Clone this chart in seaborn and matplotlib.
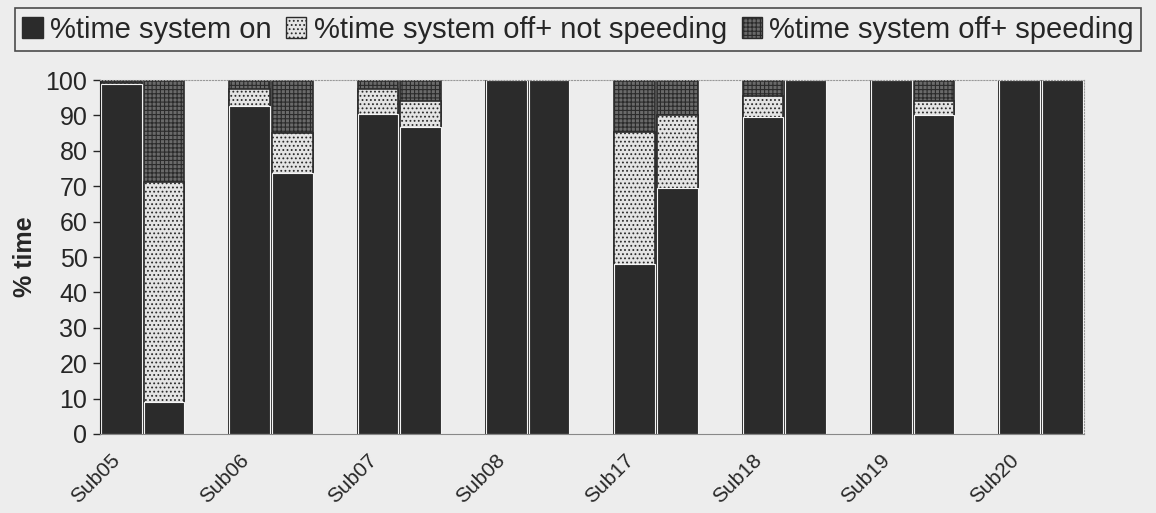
import numpy as np
import pandas as pd
import matplotlib
matplotlib.use('Agg')
import matplotlib.pyplot as plt
import seaborn as sns
from matplotlib.patches import Patch

sns.set_style('white')
plt.rcParams['font.family'] = ['Liberation Sans', 'DejaVu Sans']
plt.rcParams['hatch.linewidth'] = 0.8

# 데이터 (두 번의 주행, 피험자별)
subjects = ['Sub05', 'Sub06', 'Sub07', 'Sub08', 'Sub17', 'Sub18', 'Sub19', 'Sub20']
on_a = [99.0, 92.7, 90.3, 100, 47.9, 89.6, 100, 100]
notspeed_a = [0.3, 4.9, 7.3, 0, 37.5, 5.9, 0, 0]
speed_a = [0.7, 2.4, 2.4, 0, 14.6, 4.5, 0, 0]
on_b = [9.0, 73.8, 86.8, 100, 69.4, 100, 90.1, 100]
notspeed_b = [62.3, 11.1, 7.3, 0, 20.7, 0, 4.1, 0]
speed_b = [28.7, 15.1, 5.9, 0, 9.9, 0, 5.8, 0]

rows = []
for i, s in enumerate(subjects):
    rows.append([s, 'a', 3 * i, on_a[i], notspeed_a[i], speed_a[i]])
    rows.append([s, 'b', 3 * i + 1, on_b[i], notspeed_b[i], speed_b[i]])
df = pd.DataFrame(rows, columns=['subject', 'run', 'pos', 'on', 'notspeed', 'speed'])
df['lvl1'] = df['on']
df['lvl2'] = df['on'] + df['notspeed']
df['lvl3'] = df['lvl2'] + df['speed']

bg = '#ededed'
dark = '#2b2b2b'
fig = plt.figure(figsize=(11.56, 5.13), dpi=100, facecolor=bg)
ax = fig.add_axes([0.0865, 0.154, 0.851, 0.69])
ax.set_facecolor(bg)

# 누적 막대: 위에서부터 그리기
layers = [('lvl3', '#6a6a6a', '++++', '%time system off+ speeding'),
          ('lvl2', '#e4e4e4', '....', '%time system off+ not speeding'),
          ('lvl1', dark, None, '%time system on')]
for col, fc, hatch, lab in layers:
    sns.barplot(data=df, x='pos', y=col, native_scale=True, width=0.95,
                color=fc, edgecolor=dark, linewidth=1.2, hatch=hatch,
                saturation=1, errorbar=None, ax=ax)

# 막대 사이 흰 경계선
for p in ax.patches:
    if p.get_facecolor()[0] < 0.2:
        p.set_edgecolor('#f4f4f4')
        p.set_linewidth(0.8)

ax.set_xlim(-0.5, 22.5)
ax.set_ylim(0, 100)
ax.set_yticks(range(0, 101, 10))
ax.tick_params(axis='y', labelsize=18, length=5, width=1, direction='out', left=True, pad=4)
ax.set_xticks([3 * i - 0.25 for i in range(len(subjects))])
ax.set_xticklabels(subjects, rotation=45, ha='right', va='top',
                   rotation_mode='anchor', fontsize=15)
ax.tick_params(axis='x', length=0, pad=12)
ax.set_xlabel('')
ax.set_ylabel('% time', fontsize=18, fontweight='bold', labelpad=6)

for side in ['top', 'right']:
    ax.spines[side].set_visible(True)
    ax.spines[side].set_color('#999999')
    ax.spines[side].set_linestyle(':')
ax.spines['left'].set_color('#222222')
ax.spines['bottom'].set_color('#888888')

handles = [Patch(facecolor=dark, edgecolor=dark, label='%time system on'),
           Patch(facecolor='#e4e4e4', edgecolor=dark, hatch='....', label='%time system off+ not speeding'),
           Patch(facecolor='#6a6a6a', edgecolor=dark, hatch='++++', label='%time system off+ speeding')]
leg = fig.legend(handles=handles, loc='upper center', bbox_to_anchor=(0.5, 0.995), ncol=3,
                 fontsize=21, frameon=True, fancybox=False, edgecolor='#222222',
                 handlelength=0.7, handleheight=0.7, handletextpad=0.25, columnspacing=0.5,
                 borderpad=0.25, borderaxespad=0.2, facecolor=bg)
leg.get_frame().set_linewidth(1.2)

fig.savefig('out.png', dpi=100, facecolor=bg)
